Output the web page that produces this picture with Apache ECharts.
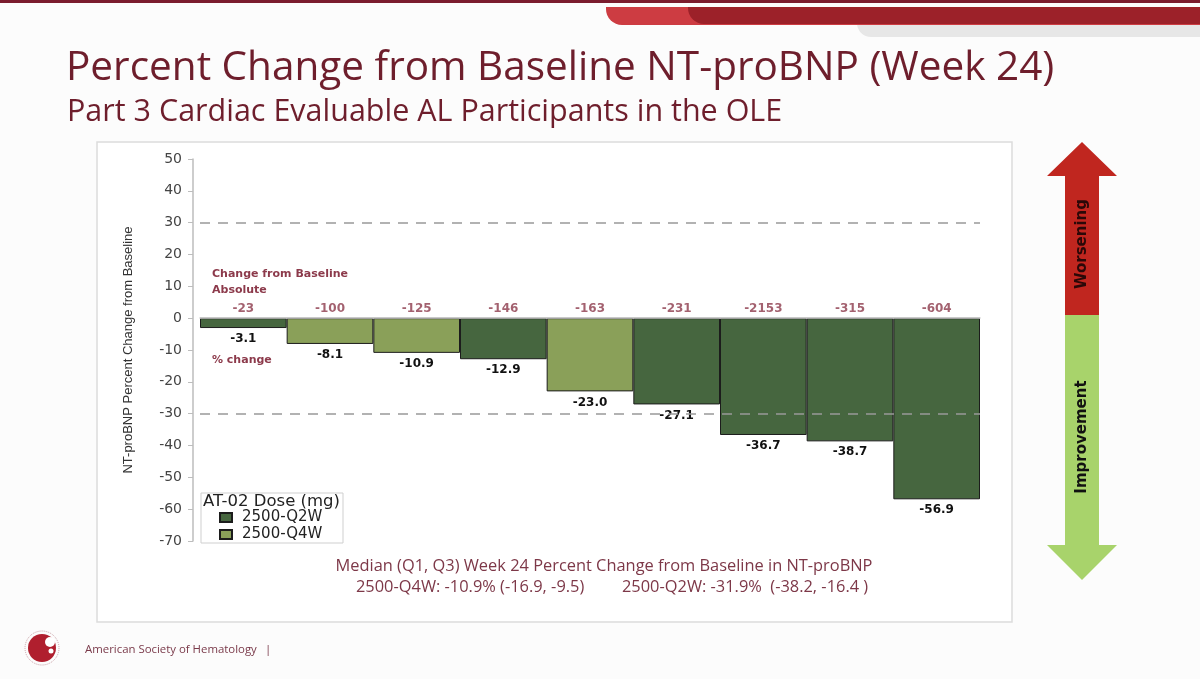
<!DOCTYPE html>
<html>
<head>
<meta charset="utf-8">
<script src="https://cdn.jsdelivr.net/npm/echarts@6/dist/echarts.min.js"></script>
<style>
  html, body { margin: 0; padding: 0; background: #fcfcfc; }
  #chart { width: 1200px; height: 679px; }
</style>
</head>
<body>
<div id="chart"></div>
<script>
"use strict"

// participants, left to right (sorted by % change)
const participants = ["P1", "P2", "P3", "P4", "P5", "P6", "P7", "P8", "P9"]
const pctChange = [-3.1, -8.1, -10.9, -12.9, -23.0, -27.1, -36.7, -38.7, -56.9]
const absChange = [-23, -100, -125, -146, -163, -231, -2153, -315, -604]
const doseGroup = ["2500-Q2W", "2500-Q4W", "2500-Q4W", "2500-Q2W", "2500-Q4W", "2500-Q2W", "2500-Q2W", "2500-Q2W", "2500-Q2W"]
const groups = ["2500-Q2W", "2500-Q4W"]
const groupColors = ["#46663f", "#8aa059"]
const thresholds = [30, -30]
const yMin = -70
const yMax = 50
const yStep = 10

const maroon = "#6e1e2c"
const labelMaroon = "#8c3a4b"
const noteFont = "16.4px Open Sans"

const barSeries = groups.map((g, i) => ({
  name: g,
  type: "bar",
  barGap: "-100%",
  barCategoryGap: 0,
  data: pctChange.map((v, k) => (doseGroup[k] === g ? v : null)),
  itemStyle: { color: groupColors[i], borderColor: "#1c1c1c", borderWidth: 1 },
  label: {
    show: true,
    position: "bottom",
    distance: 5,
    formatter: (p) => p.value.toFixed(1),
    color: "#111",
    fontFamily: "DejaVu Sans",
    fontWeight: "bold",
    fontSize: 12,
  },
}))

const option = {
  animation: false,
  backgroundColor: "#fcfcfc",
  title: [
    {
      text: "Percent Change from Baseline NT-proBNP (Week 24)",
      left: 61,
      top: 43,
      textStyle: { fontFamily: "Open Sans", fontWeight: "normal", fontSize: 40.5, color: maroon },
    },
    {
      text: "Part 3 Cardiac Evaluable AL Participants in the OLE",
      left: 62,
      top: 92,
      textStyle: { fontFamily: "Open Sans", fontWeight: "normal", fontSize: 30.5, color: maroon },
    },
  ],
  graphic: [
    // slide decoration
    { type: "rect", shape: { x: 0, y: 0, width: 1200, height: 3 }, style: { fill: "#7b1c2e" } },
    { type: "rect", shape: { x: 857, y: 16, width: 360, height: 21, r: [0, 0, 0, 14] }, style: { fill: "#e7e7e7" } },
    { type: "rect", shape: { x: 606, y: 7, width: 620, height: 18, r: [0, 0, 0, 16] }, style: { fill: "#cd3c42" } },
    { type: "rect", shape: { x: 688, y: 7, width: 540, height: 17, r: [0, 0, 0, 16] }, style: { fill: "#9c2129" } },
    // chart panel
    { type: "rect", z: -10, shape: { x: 97, y: 142, width: 915, height: 480 }, style: { fill: "#fff", stroke: "#dcdcdc", lineWidth: 1.5 } },
    // legend box + title
    { type: "rect", z: -5, shape: { x: 201, y: 493, width: 142, height: 50 }, style: { fill: "#fff", stroke: "#cfcfcf", lineWidth: 1 } },
    { type: "text", x: 203, y: 502, style: { text: "AT-02 Dose (mg)", fill: "#222", font: "16.5px DejaVu Sans", verticalAlign: "middle" } },
    // annotations
    { type: "text", x: 212, y: 274, style: { text: "Change from Baseline", fill: labelMaroon, font: "bold 11px DejaVu Sans", verticalAlign: "middle" } },
    { type: "text", x: 212, y: 290, style: { text: "Absolute", fill: labelMaroon, font: "bold 11px DejaVu Sans", verticalAlign: "middle" } },
    { type: "text", x: 212, y: 360, style: { text: "% change", fill: labelMaroon, font: "bold 11px DejaVu Sans", verticalAlign: "middle" } },
    // median summary
    { type: "text", x: 604, y: 566, style: { text: "Median (Q1, Q3) Week 24 Percent Change from Baseline in NT-proBNP", fill: "#7d3848", font: noteFont, align: "center", verticalAlign: "middle" } },
    { type: "text", x: 356, y: 587, style: { text: "2500-Q4W: -10.9% (-16.9, -9.5)", fill: "#7d3848", font: noteFont, verticalAlign: "middle" } },
    { type: "text", x: 622, y: 587, style: { text: "2500-Q2W: -31.9%  (-38.2, -16.4 )", fill: "#7d3848", font: noteFont, verticalAlign: "middle" } },
    // worsening / improvement arrow
    {
      type: "polygon",
      shape: { points: [[1082, 142], [1117, 176], [1099, 176], [1099, 315], [1065, 315], [1065, 176], [1047, 176]] },
      style: { fill: "#c0261f" },
    },
    {
      type: "polygon",
      shape: { points: [[1065, 315], [1099, 315], [1099, 545], [1117, 545], [1082, 580], [1047, 545], [1065, 545]] },
      style: { fill: "#a8d36b" },
    },
    { type: "text", x: 1082, y: 244, rotation: Math.PI / 2, style: { text: "Worsening", fill: "#2a0808", font: "bold 15px DejaVu Sans", align: "center", verticalAlign: "middle" } },
    { type: "text", x: 1082, y: 437, rotation: Math.PI / 2, style: { text: "Improvement", fill: "#111", font: "bold 15px DejaVu Sans", align: "center", verticalAlign: "middle" } },
    // footer
    { type: "circle", shape: { cx: 42, cy: 648, r: 14 }, style: { fill: "#b01f2e" } },
    { type: "circle", shape: { cx: 50, cy: 642, r: 5 }, style: { fill: "#fff" } },
    { type: "circle", shape: { cx: 51, cy: 651, r: 2.5 }, style: { fill: "#fff" } },
    { type: "circle", shape: { cx: 42, cy: 648, r: 17 }, style: { fill: "none", stroke: "#c9a0a6", lineWidth: 1, lineDash: [1, 1] } },
    { type: "text", x: 85, y: 650, style: { text: "American Society of Hematology", fill: "#7a3a4a", font: "11.4px Open Sans", verticalAlign: "middle" } },
    { type: "text", x: 265, y: 650, style: { text: "|", fill: "#7a3a4a", font: "11.4px Open Sans", verticalAlign: "middle" } },
  ],
  legend: {
    data: groups,
    orient: "vertical",
    left: 219,
    top: 510,
    padding: 0,
    itemGap: 2,
    itemWidth: 12,
    itemHeight: 9,
    icon: "rect",
    textStyle: { fontFamily: "DejaVu Sans", fontSize: 15, color: "#222", lineHeight: 14, padding: [0, 0, 0, 5] },
  },
  grid: { left: 200, right: 220, top: 159, bottom: 138 },
  xAxis: {
    type: "category",
    data: participants,
    offset: 5,
    axisLine: { lineStyle: { color: "#c8c8c8", width: 1.5 } },
    axisTick: { alignWithLabel: true, length: 5, lineStyle: { color: "#c8c8c8" } },
    axisLabel: { show: false },
  },
  yAxis: {
    type: "value",
    min: yMin,
    max: yMax,
    interval: yStep,
    offset: 7,
    name: "NT-proBNP Percent Change from Baseline",
    nameLocation: "middle",
    nameGap: 58,
    nameTextStyle: { fontFamily: "Liberation Sans", fontSize: 13, color: "#333" },
    axisLine: { show: true, lineStyle: { color: "#bdbdbd", width: 1.5 } },
    axisTick: { show: true, length: 5, lineStyle: { color: "#bdbdbd" } },
    axisLabel: { fontFamily: "DejaVu Sans", fontSize: 14, color: "#444", margin: 11 },
    splitLine: { show: false },
  },
  series: [
    ...barSeries,
    {
      name: "Absolute change",
      type: "scatter",
      z: 5,
      symbolSize: 0,
      data: absChange.map(() => 0),
      label: {
        show: true,
        position: "top",
        distance: 3,
        formatter: (p) => String(absChange[p.dataIndex]),
        color: labelMaroon,
        fontFamily: "DejaVu Sans",
        fontWeight: "bold",
        fontSize: 12,
      },
      markLine: {
        silent: true,
        symbol: "none",
        label: { show: false },
        data: [
          ...thresholds.map((t) => ({ yAxis: t, lineStyle: { color: "#999", type: [10, 8], width: 1.5 } })),
          { yAxis: 0, lineStyle: { color: "#c4c4c4", type: "solid", width: 1.5 } },
        ],
      },
    },
  ],
}

const myChart = echarts.init(document.getElementById("chart"), null, { renderer: "canvas" })
myChart.setOption(option)
</script>
</body>
</html>
